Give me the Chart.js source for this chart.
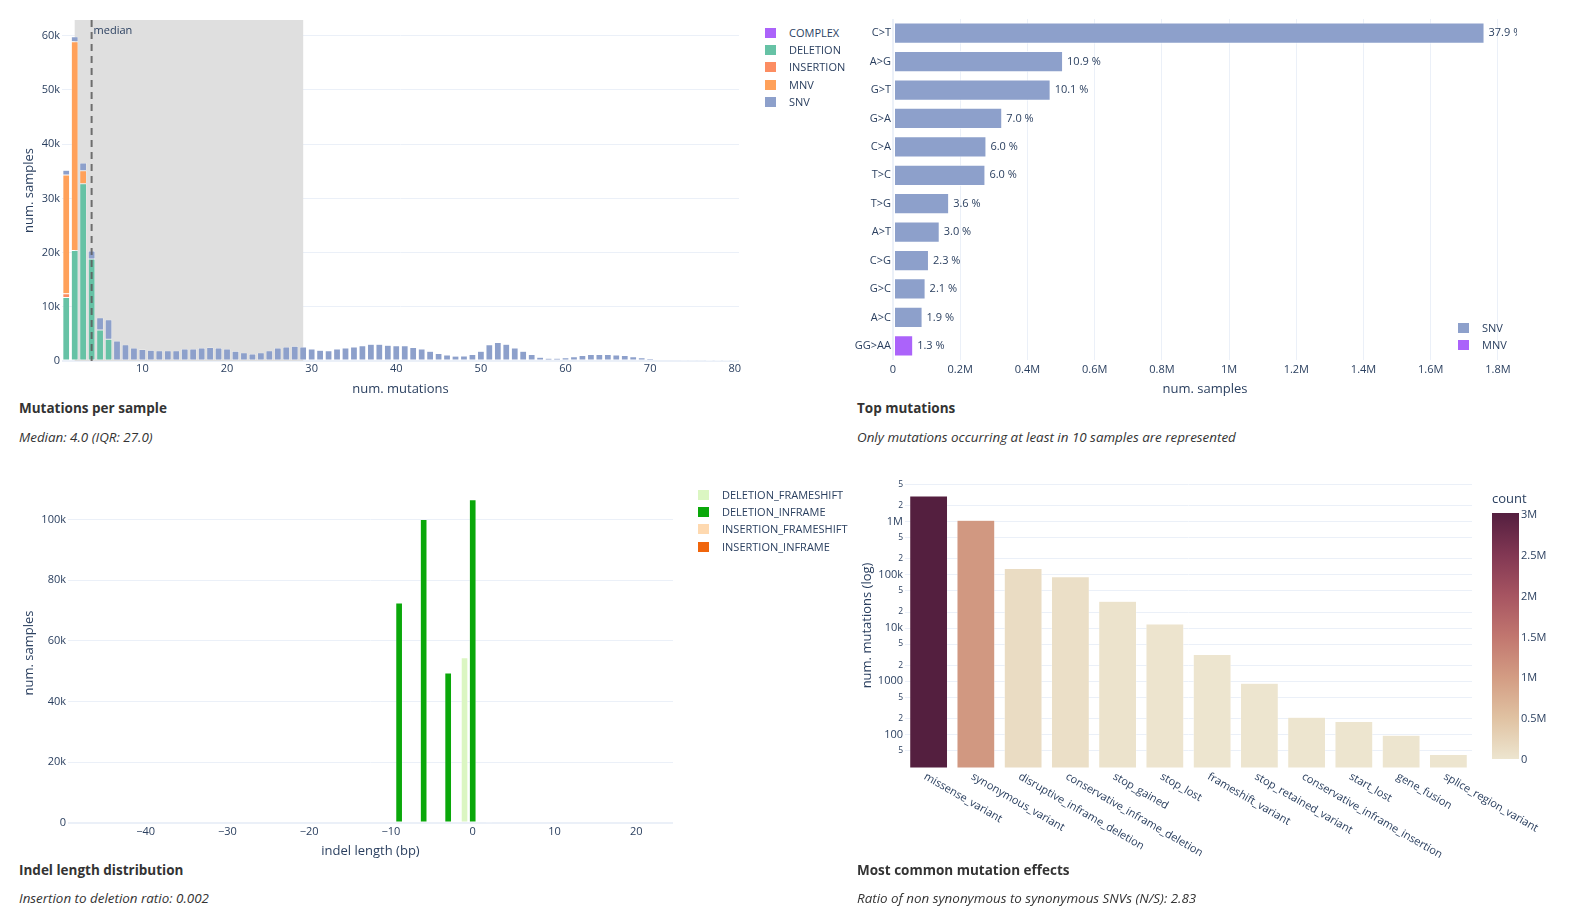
<!DOCTYPE html>
<html>
<head>
<meta charset="utf-8">
<script src="https://cdn.jsdelivr.net/npm/chart.js"></script>
<style>
  body { margin: 0; background: #fff; font-family: 'Open Sans', verdana, arial, sans-serif; }
  canvas { position: absolute; }
  .title { position: absolute; font-weight: 700; font-size: 13.5px; line-height: 20px; color: #333; white-space: nowrap; }
  .sub { position: absolute; font-style: italic; font-size: 13.4px; line-height: 18px; color: #333; white-space: nowrap; }
  .legend-row { position: absolute; height: 16px; line-height: 16px; font-size: 11px; color: #2a3f5f; padding-left: 24px; white-space: nowrap; }
  .legend-row i { position: absolute; left: 0; top: 3px; width: 11px; height: 10px; }
  .cbar { position: absolute; }
  .cb-tick { position: absolute; font-size: 11px; line-height: 16px; color: #2a3f5f; white-space: nowrap; }
</style>
</head>
<body>
<canvas id="perSample" width="750" height="397" style="left:0;top:0;width:750px;height:397px"></canvas>
<canvas id="topMut" width="742" height="397" style="left:840px;top:0;width:742px;height:397px"></canvas>
<canvas id="indel" width="690" height="399" style="left:0;top:460px;width:690px;height:399px"></canvas>
<canvas id="effects" width="742" height="440" style="left:840px;top:460px;width:742px;height:440px"></canvas>

<div class="title" style="left:19px;top:398px">Mutations per sample</div>
<div class="sub" style="left:19px;top:428px">Median: 4.0 (IQR: 27.0)</div>
<div class="title" style="left:857px;top:398px">Top mutations</div>
<div class="sub" style="left:857px;top:428px">Only mutations occurring at least in 10 samples are represented</div>
<div class="title" style="left:19px;top:860px">Indel length distribution</div>
<div class="sub" style="left:19px;top:889px">Insertion to deletion ratio: 0.002</div>
<div class="title" style="left:857px;top:860px">Most common mutation effects</div>
<div class="sub" style="left:857px;top:889px">Ratio of non synonymous to synonymous SNVs (N/S): 2.83</div>

<script>
// ---- mutations per sample ----
const mutationBins = Array.from({length: 80}, (_, i) => i + 1);
const mutationTicks = [10, 20, 30, 40, 50, 60, 70, 80];
const sampleTicks = [0, 10000, 20000, 30000, 40000, 50000, 60000];
const sampleTickLabels = ['0', '10k', '20k', '30k', '40k', '50k', '60k'];
const complexPerSample = [];
const deletionPerSample = [11700, 20400, 32700, 18800, 5700, 4000];
const insertionPerSample = [700];
const mnvPerSample = [21900, 38500, 2400];
const snvPerSample = [900, 900, 1400, 1500, 2300, 3600, 3700, 3000, 2400, 2100,
  2000, 1900, 1900, 1900, 2200, 2200, 2400, 2500, 2400, 2200,
  1800, 1500, 1300, 1500, 1900, 2400, 2600, 2700, 2600, 2200,
  2000, 1900, 2200, 2400, 2600, 2800, 3100, 3100, 2900, 2800,
  2800, 2500, 2200, 1800, 1400, 1100, 900, 900, 1200, 1800,
  3000, 3400, 3100, 2400, 1800, 1200, 700, 500, 500, 600,
  800, 1000, 1200, 1200, 1200, 1100, 1000, 800, 600, 450,
  300, 200, 150, 100, 80, 70, 60, 50, 50, 40];
const medianMutations = 4;
const iqrBounds = [2, 29];

// ---- top mutations ----
const topMutations = ['C>T', 'A>G', 'G>T', 'G>A', 'C>A', 'T>C', 'T>G', 'A>T', 'C>G', 'G>C', 'A>C', 'GG>AA'];
const topMutationTypes = ['SNV', 'SNV', 'SNV', 'SNV', 'SNV', 'SNV', 'SNV', 'SNV', 'SNV', 'SNV', 'SNV', 'MNV'];
const topMutationSamples = [1760000, 506000, 469000, 325000, 278000, 275000, 167000, 139000, 107000, 97000, 88000, 60000];
const topMutationPct = ['37.9 %', '10.9 %', '10.1 %', '7.0 %', '6.0 %', '6.0 %', '3.6 %', '3.0 %', '2.3 %', '2.1 %', '1.9 %', '1.3 %'];
const millionTicks = [0, 200000, 400000, 600000, 800000, 1000000, 1200000, 1400000, 1600000, 1800000];
const millionTickLabels = ['0', '0.2M', '0.4M', '0.6M', '0.8M', '1M', '1.2M', '1.4M', '1.6M', '1.8M'];

// ---- indel lengths ----
const indelLengths = Array.from({length: 74}, (_, i) => i - 49);
const indelTicks = [-40, -30, -20, -10, 0, 10, 20];
const indelCountTicks = [0, 20000, 40000, 60000, 80000, 100000];
const indelCountLabels = ['0', '20k', '40k', '60k', '80k', '100k'];
// [indel length, samples]
const deletionFrameshift = [[-4, 600], [-2, 500], [-1, 54400]];
const deletionInframe = [[-15, 400], [-12, 400], [-9, 72500], [-6, 100000], [-3, 49400], [0, 106500]];
const insertionFrameshift = [[1, 300], [2, 200]];
const insertionInframe = [[3, 500]];

// ---- mutation effects ----
const effects = ['missense_variant', 'synonymous_variant', 'disruptive_inframe_deletion',
  'conservative_inframe_deletion', 'stop_gained', 'stop_lost', 'frameshift_variant',
  'stop_retained_variant', 'conservative_inframe_insertion', 'start_lost', 'gene_fusion',
  'splice_region_variant'];
const effectCounts = [3020000, 1060000, 131000, 92000, 32000, 11900, 3200, 917, 212, 176, 97, 42];
const effectTicks = [50, 100, 200, 500, 1000, 2000, 5000, 10000, 20000, 50000,
  100000, 200000, 500000, 1000000, 2000000, 5000000];
const effectTickLabels = ['5', '100', '2', '5', '1000', '2', '5', '10k', '2', '5',
  '100k', '2', '5', '1M', '2', '5'];
const colorbarTicks = [0, 500000, 1000000, 1500000, 2000000, 2500000, 3000000];
const colorbarLabels = ['0', '0.5M', '1M', '1.5M', '2M', '2.5M', '3M'];
const brwnyl = [[237, 229, 207], [224, 194, 162], [211, 156, 131], [193, 118, 111],
  [166, 84, 97], [129, 55, 83], [84, 31, 63]];

const FONT = "'Open Sans', verdana, arial, sans-serif";
const TEXT = '#2a3f5f';
const GRID = '#EBF0F8';

Chart.defaults.font.family = FONT;
Chart.defaults.font.size = 11;
Chart.defaults.color = TEXT;
Chart.defaults.animation = false;
Chart.defaults.responsive = false;
Chart.defaults.plugins.legend.display = false;
Chart.defaults.plugins.tooltip.enabled = false;

const axisTitle = (text) => ({display: true, text, font: {size: 13}, color: TEXT, padding: 0});
const zeroWidth = (c) => (c.tick && c.tick.value === 0 ? 2 : 1);

function legend(items, left, top, step) {
  items.forEach((it, i) => {
    const row = document.createElement('div');
    row.className = 'legend-row';
    row.style.left = left + 'px';
    row.style.top = (top + i * step) + 'px';
    row.innerHTML = '<i style="background:' + it.color + '"></i>' + it.label;
    document.body.appendChild(row);
  });
}

// ---------- chart 1: mutations per sample ----------
const onBins = (arr) => mutationBins.map((_, i) => (arr[i] === undefined ? null : arr[i]));
const typeColors = {COMPLEX: '#ab63fa', DELETION: '#66c2a5', INSERTION: '#fc8d62', MNV: '#ffa15a', SNV: '#8da0cb'};

const medianPlugin = {
  id: 'medianBand',
  beforeDatasetsDraw(chart) {
    const {ctx, chartArea, scales: {x}} = chart;
    const x0 = x.getPixelForValue(mutationBins.indexOf(iqrBounds[0]));
    const x1 = x.getPixelForValue(mutationBins.indexOf(iqrBounds[1]));
    ctx.save();
    ctx.fillStyle = '#dfdfdf';
    ctx.fillRect(x0, chartArea.top, x1 - x0, chartArea.bottom - chartArea.top);
    ctx.restore();
  },
  afterDatasetsDraw(chart) {
    const {ctx, chartArea, scales: {x}} = chart;
    const xm = x.getPixelForValue(mutationBins.indexOf(medianMutations));
    ctx.save();
    ctx.strokeStyle = 'rgba(90,90,90,0.85)';
    ctx.lineWidth = 2;
    ctx.setLineDash([7, 5]);
    ctx.beginPath();
    ctx.moveTo(xm, chartArea.top);
    ctx.lineTo(xm, chartArea.bottom);
    ctx.stroke();
    ctx.setLineDash([]);
    ctx.font = '11px ' + FONT;
    ctx.fillStyle = TEXT;
    ctx.textBaseline = 'middle';
    ctx.fillText('median', xm + 2, chartArea.top + 11);
    ctx.restore();
  }
};

const barStyle = {borderColor: 'rgba(255,255,255,0.9)', borderWidth: 0.5, borderSkipped: false,
  categoryPercentage: 1, barPercentage: 0.8};

const perSampleChart = new Chart(document.getElementById('perSample'), {
  type: 'bar',
  data: {
    labels: mutationBins,
    datasets: [
      {label: 'COMPLEX', data: onBins(complexPerSample), backgroundColor: typeColors.COMPLEX, ...barStyle},
      {label: 'DELETION', data: onBins(deletionPerSample), backgroundColor: typeColors.DELETION, ...barStyle},
      {label: 'INSERTION', data: onBins(insertionPerSample), backgroundColor: typeColors.INSERTION, ...barStyle},
      {label: 'MNV', data: onBins(mnvPerSample), backgroundColor: typeColors.MNV, ...barStyle},
      {label: 'SNV', data: onBins(snvPerSample), backgroundColor: typeColors.SNV, ...barStyle}
    ]
  },
  options: {
    layout: {padding: {left: 21, top: 20, right: 11, bottom: 0}},
    scales: {
      x: {
        stacked: true,
        grid: {display: false, drawTicks: false},
        border: {display: false},
        title: axisTitle('num. mutations'),
        ticks: {autoSkip: false, maxRotation: 0, minRotation: 0, padding: 1,
          callback: (v, i) => (mutationTicks.includes(mutationBins[i]) ? String(mutationBins[i]) : '')},
        afterFit: (s) => { s.height = 36; }
      },
      y: {
        stacked: true,
        min: 0, max: 62900,
        grid: {color: GRID, lineWidth: zeroWidth, drawTicks: false},
        border: {display: false},
        title: axisTitle('num. samples'),
        ticks: {padding: 2, callback: (v, i) => sampleTickLabels[i]},
        afterBuildTicks: (s) => { s.ticks = sampleTicks.map(v => ({value: v})); },
        afterFit: (s) => { s.width = 41; }
      }
    }
  },
  plugins: [medianPlugin]
});
legend(perSampleChart.data.datasets.map(d => ({label: d.label, color: d.backgroundColor})), 765, 25, 17.2);

// ---------- chart 2: top mutations ----------
const pctPlugin = {
  id: 'pctLabels',
  afterDatasetsDraw(chart) {
    const {ctx, chartArea} = chart;
    ctx.save();
    ctx.beginPath();
    ctx.rect(chartArea.left, chartArea.top, chartArea.right - chartArea.left, chartArea.bottom - chartArea.top);
    ctx.clip();
    ctx.font = '11px ' + FONT;
    ctx.fillStyle = TEXT;
    ctx.textBaseline = 'middle';
    chart.data.datasets.forEach((ds, di) => {
      chart.getDatasetMeta(di).data.forEach((bar, i) => {
        if (ds.data[i] === null) return;
        ctx.fillText(topMutationPct[i], bar.x + 4, bar.y);
      });
    });
    ctx.restore();
  }
};

const topBarStyle = {borderColor: 'rgba(255,255,255,0.7)', borderWidth: 1, borderSkipped: false,
  categoryPercentage: 0.75, barPercentage: 1};

const topChart = new Chart(document.getElementById('topMut'), {
  type: 'bar',
  data: {
    labels: topMutations,
    datasets: [
      {label: 'SNV', data: topMutationSamples.map((v, i) => (topMutationTypes[i] === 'SNV' ? v : null)),
        backgroundColor: typeColors.SNV, ...topBarStyle},
      {label: 'MNV', data: topMutationSamples.map((v, i) => (topMutationTypes[i] === 'MNV' ? v : null)),
        backgroundColor: typeColors.COMPLEX, ...topBarStyle}
    ]
  },
  options: {
    indexAxis: 'y',
    layout: {padding: {left: 0, top: 19, right: 65, bottom: 0}},
    scales: {
      x: {
        stacked: true,
        min: 0, max: 1856600,
        grid: {color: GRID, lineWidth: zeroWidth, drawTicks: false},
        border: {display: false},
        title: axisTitle('num. samples'),
        ticks: {padding: 3, maxRotation: 0, callback: (v, i) => millionTickLabels[i]},
        afterBuildTicks: (s) => { s.ticks = millionTicks.map(v => ({value: v})); },
        afterFit: (s) => { s.height = 37; }
      },
      y: {
        stacked: true,
        grid: {display: false, drawTicks: false},
        border: {display: false},
        ticks: {padding: 2},
        afterFit: (s) => { s.width = 53; }
      }
    }
  },
  plugins: [pctPlugin]
});
legend(topChart.data.datasets.map(d => ({label: d.label, color: d.backgroundColor})), 1458, 319.5, 17.2);

// ---------- chart 3: indel length ----------
const onLengths = (pairs) => indelLengths.map(len => {
  const hit = pairs.find(p => p[0] === len);
  return hit ? hit[1] : null;
});
const indelStyle = {borderColor: 'rgba(255,255,255,0.6)', borderWidth: 0.5, borderSkipped: false,
  categoryPercentage: 1, barPercentage: 0.82};

const indelChart = new Chart(document.getElementById('indel'), {
  type: 'bar',
  data: {
    labels: indelLengths,
    datasets: [
      {label: 'DELETION_FRAMESHIFT', data: onLengths(deletionFrameshift), backgroundColor: '#dbf6c2', ...indelStyle},
      {label: 'DELETION_INFRAME', data: onLengths(deletionInframe), backgroundColor: '#0aa80a', ...indelStyle},
      {label: 'INSERTION_FRAMESHIFT', data: onLengths(insertionFrameshift), backgroundColor: '#fed9b0', ...indelStyle},
      {label: 'INSERTION_INFRAME', data: onLengths(insertionInframe), backgroundColor: '#f0650c', ...indelStyle}
    ]
  },
  options: {
    layout: {padding: {left: 21, top: 23, right: 17, bottom: 0}},
    scales: {
      x: {
        stacked: true,
        grid: {display: false, drawTicks: false},
        border: {display: false},
        title: axisTitle('indel length (bp)'),
        ticks: {autoSkip: false, maxRotation: 0, minRotation: 0, padding: 2,
          callback: (v, i) => (indelTicks.includes(indelLengths[i]) ? String(indelLengths[i]).replace('-', '\u2212') : '')},
        afterFit: (s) => { s.height = 36; }
      },
      y: {
        stacked: true,
        min: 0, max: 112000,
        grid: {color: GRID, lineWidth: zeroWidth, drawTicks: false},
        border: {display: false},
        title: axisTitle('num. samples'),
        ticks: {padding: 2, callback: (v, i) => indelCountLabels[i]},
        afterBuildTicks: (s) => { s.ticks = indelCountTicks.map(v => ({value: v})); },
        afterFit: (s) => { s.width = 47; }
      }
    }
  }
});
legend(indelChart.data.datasets.map(d => ({label: d.label, color: d.backgroundColor})), 698, 487, 17.2);

// ---------- chart 4: mutation effects ----------
const countMax = Math.max(...effectCounts);
function scaleColor(t) {
  const p = Math.min(Math.max(t, 0), 1) * (brwnyl.length - 1);
  const i = Math.min(Math.floor(p), brwnyl.length - 2);
  const f = p - i;
  const c = brwnyl[i].map((v, k) => Math.round(v + (brwnyl[i + 1][k] - v) * f));
  return 'rgb(' + c.join(',') + ')';
}

const rotatedLabels = {
  id: 'rotatedLabels',
  afterDraw(chart) {
    const {ctx, chartArea, scales: {x}} = chart;
    ctx.save();
    ctx.font = '11px ' + FONT;
    ctx.fillStyle = TEXT;
    ctx.textAlign = 'left';
    ctx.textBaseline = 'top';
    chart.data.labels.forEach((label, i) => {
      ctx.save();
      ctx.translate(x.getPixelForTick(i) - 1, chartArea.bottom + 3);
      ctx.rotate(Math.PI / 6);
      ctx.fillText(label, 0, 0);
      ctx.restore();
    });
    ctx.restore();
  }
};

const effectsChart = new Chart(document.getElementById('effects'), {
  type: 'bar',
  data: {
    labels: effects,
    datasets: [{
      label: 'count',
      data: effectCounts,
      backgroundColor: effectCounts.map(v => scaleColor(v / countMax)),
      borderColor: 'rgba(255,255,255,0.9)', borderWidth: 0.5, borderSkipped: false,
      categoryPercentage: 1, barPercentage: 0.8
    }]
  },
  options: {
    layout: {padding: {left: 19, top: 23, right: 110, bottom: 132}},
    scales: {
      x: {
        grid: {display: false, drawTicks: false},
        border: {display: false},
        ticks: {display: false},
        afterFit: (s) => { s.height = 0; }
      },
      y: {
        type: 'logarithmic',
        min: 23.5, max: 5300000,
        grid: {color: GRID, drawTicks: false},
        border: {display: false},
        title: axisTitle('num. mutations (log)'),
        ticks: {padding: 2, callback: (v, i) => effectTickLabels[i],
          font: (c) => ({size: effectTickLabels[c.index] && effectTickLabels[c.index].length > 1 ? 11 : 8.5})},
        afterBuildTicks: (s) => { s.ticks = effectTicks.map(v => ({value: v})); },
        afterFit: (s) => { s.width = 46; }
      }
    }
  },
  plugins: [rotatedLabels]
});

// colour bar
(function () {
  const top = 512.7, height = 246, left = 1492, width = 27;
  const bar = document.createElement('div');
  bar.className = 'cbar';
  bar.style.left = left + 'px';
  bar.style.top = top + 'px';
  bar.style.width = width + 'px';
  bar.style.height = height + 'px';
  bar.style.background = 'linear-gradient(to top, ' +
    brwnyl.map((c, i) => 'rgb(' + c.join(',') + ') ' + (i / (brwnyl.length - 1) * 100) + '%').join(', ') + ')';
  document.body.appendChild(bar);
  const title = document.createElement('div');
  title.className = 'cb-tick';
  title.style.left = left + 'px';
  title.style.top = '490px';
  title.style.fontSize = '13px';
  title.textContent = 'count';
  document.body.appendChild(title);
  colorbarTicks.forEach((v, i) => {
    const t = document.createElement('div');
    t.className = 'cb-tick';
    t.style.left = (left + width + 2) + 'px';
    t.style.top = (top + height - v / countMax * height - 8) + 'px';
    t.textContent = colorbarLabels[i];
    document.body.appendChild(t);
  });
})();
</script>
</body>
</html>
